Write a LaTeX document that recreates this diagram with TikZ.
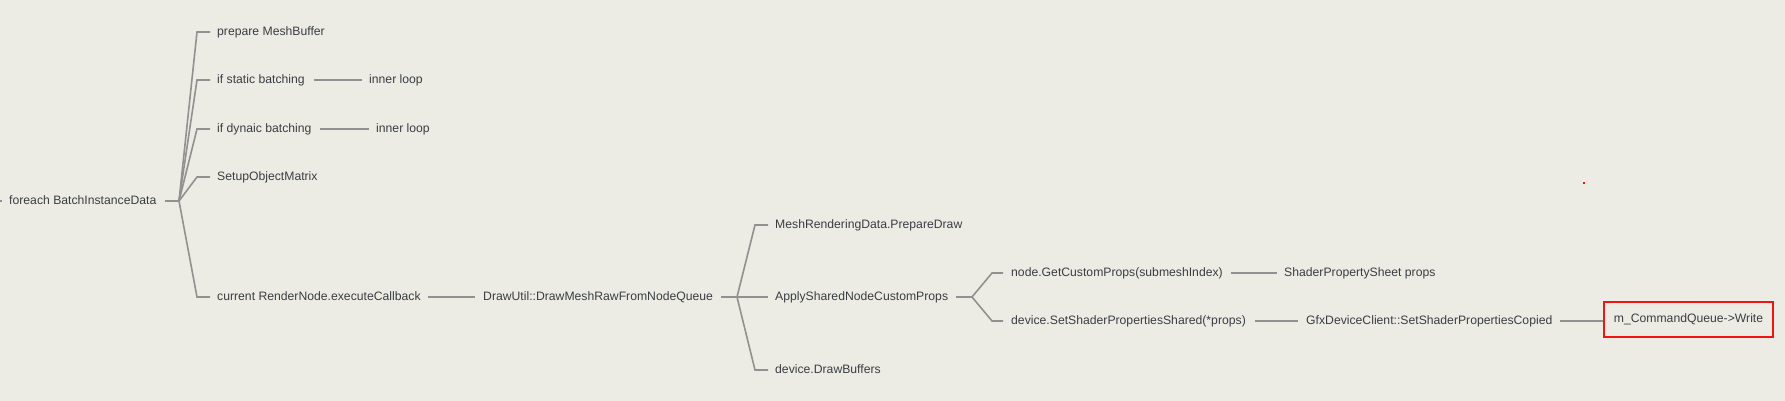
\documentclass[tikz,border=0pt]{standalone}
\usepackage{fontspec}
\setmainfont{Liberation Sans}
\definecolor{bgc}{RGB}{236,236,228}
\definecolor{txc}{RGB}{58,62,68}
\definecolor{lnc}{RGB}{145,145,145}
\definecolor{boxred}{RGB}{240,20,20}
\begin{document}
\begin{tikzpicture}[x=1pt,y=-1pt,
  lbl/.style={anchor=west,inner sep=0pt,text=txc,font=\fontsize{12.2}{14}\selectfont,text height=9pt,text depth=2.6pt},
  link/.style={draw=lnc,line width=1.6pt},
  hl/.style={draw=boxred,line width=2pt,minimum width=169pt,minimum height=35pt,inner sep=0pt,text=txc,font=\fontsize{12.2}{14}\selectfont,anchor=west}
]
\useasboundingbox[fill=bgc] (0,0) rectangle (1785,401);
% nodes
\node[lbl] (root) at (9,201) {foreach BatchInstanceData};
\node[lbl] (prep) at (217,32) {prepare MeshBuffer};
\node[lbl] (stat) at (217,80) {if static batching};
\node[lbl] (innA) at (369,80) {inner loop};
\node[lbl] (dyn) at (217,129) {if dynaic batching};
\node[lbl] (innB) at (376,129) {inner loop};
\node[lbl] (setup) at (217,177) {SetupObjectMatrix};
\node[lbl] (cur) at (217,297) {current RenderNode.executeCallback};
\node[lbl] (du) at (483,297) {DrawUtil::DrawMeshRawFromNodeQueue};
\node[lbl] (mrd) at (775,225) {MeshRenderingData.PrepareDraw};
\node[lbl] (apply) at (775,297) {ApplySharedNodeCustomProps};
\node[lbl] (dbuf) at (775,370) {device.DrawBuffers};
\node[lbl] (gcp) at (1011,273) {node.GetCustomProps(submeshIndex)};
\node[lbl] (sps) at (1284,273) {ShaderPropertySheet props};
\node[lbl] (ssp) at (1011,321) {device.SetShaderPropertiesShared(*props)};
\node[lbl] (gfx) at (1306,321) {GfxDeviceClient::SetShaderPropertiesCopied};
\node[hl] (cmdq) at (1603,319.5) {m\_CommandQueue->Write};
% junctions
\coordinate (edge) at (0,201);
\coordinate (j1) at (179,201);
\coordinate (j2) at (737,297);
\coordinate (j3) at (972,297);
% connectors
\draw[link] (edge) -- ([xshift=-7pt]root.west);
\draw[link] ([xshift=8pt]root.east) -- (j1);
\foreach \c in {prep,stat,dyn,setup,cur}
  \draw[link] (j1) -- ([xshift=-20pt]\c.west) -- ([xshift=-7pt]\c.west);
\draw[link] ([xshift=9pt]stat.east) -- ([xshift=-7pt]innA.west);
\draw[link] ([xshift=8pt]dyn.east) -- ([xshift=-7pt]innB.west);
\draw[link] ([xshift=7pt]cur.east) -- ([xshift=-8pt]du.west);
\draw[link] ([xshift=8pt]du.east) -- (j2);
\foreach \c in {mrd,apply,dbuf}
  \draw[link] (j2) -- ([xshift=-20pt]\c.west) -- ([xshift=-7pt]\c.west);
\draw[link] ([xshift=8pt]apply.east) -- (j3);
\foreach \c in {gcp,ssp}
  \draw[link] (j3) -- ([xshift=-19pt]\c.west) -- ([xshift=-8pt]\c.west);
\draw[link] ([xshift=8pt]gcp.east) -- ([xshift=-7pt]sps.west);
\draw[link] ([xshift=9pt]ssp.east) -- ([xshift=-8pt]gfx.west);
\draw[link] ([xshift=7pt]gfx.east) -- (cmdq.west |- gfx.west);
% stray dot
\fill[boxred] (1583,182) rectangle (1585,184);
\end{tikzpicture}
\end{document}
